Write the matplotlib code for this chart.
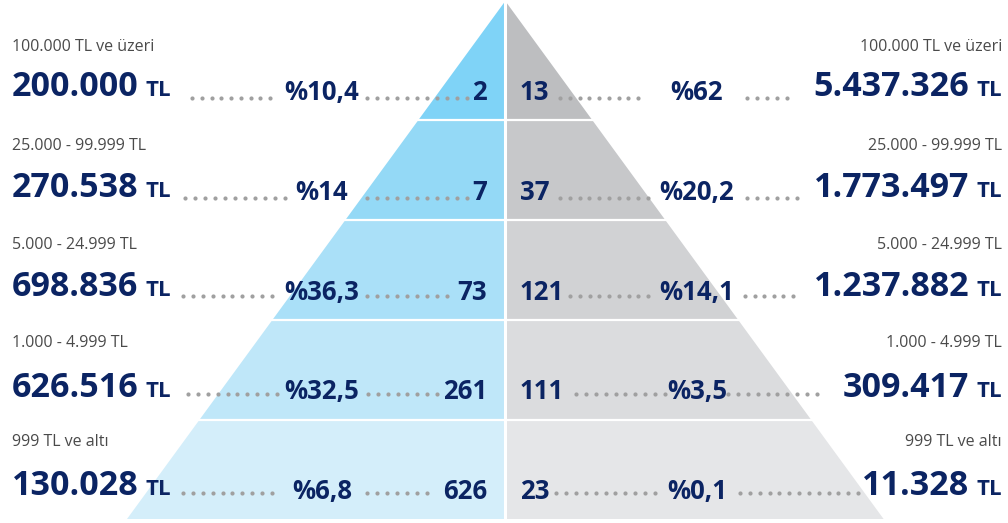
import numpy as np
import matplotlib

matplotlib.use("Agg")
import matplotlib.pyplot as plt

# tiers, top to bottom
tier_labels = ["100.000 TL ve üzeri", "25.000 - 99.999 TL", "5.000 - 24.999 TL",
               "1.000 - 4.999 TL", "999 TL ve altı"]
left_amount = [200000, 270538, 698836, 626516, 130028]
left_pct = [10.4, 14, 36.3, 32.5, 6.8]
left_count = [2, 7, 73, 261, 626]
right_count = [13, 37, 121, 111, 23]
right_pct = [62, 20.2, 14.1, 3.5, 0.1]
right_amount = [5437326, 1773497, 1237882, 309417, 11328]

left_colors = ["#7fd3f7", "#94d9f6", "#aae0f8", "#bfe7f9", "#d4eefa"]
right_colors = ["#bdbec0", "#c7c8ca", "#d1d2d4", "#dbdcde", "#e5e6e8"]

NAVY = "#0b2463"
GRAY_TXT = "#4a4a4a"
DOT = "#a0a0a0"
FONT = "Open Sans"


def fmt_int(v):
    return f"{v:,}".replace(",", ".")


def fmt_pct(v):
    s = f"{v:g}".replace(".", ",")
    return "%" + s


W, H = 1008, 523
fig = plt.figure(figsize=(W / 100, H / 100), dpi=100)
ax = fig.add_axes([0, 0, 1, 1])
ax.set_xlim(0, W)
ax.set_ylim(H, 0)
ax.axis("off")

# pyramid geometry (pixel layout)
cx, apex_y, base_y, base_half = 505.3, 1.0, 519.0, 378.3
k = base_half / (base_y - apex_y)
bounds = np.linspace(apex_y, base_y, len(tier_labels) + 1)
bounds[1:-1] = [119.5, 220, 320, 420]

for i in range(len(tier_labels)):
    yt, yb = bounds[i], bounds[i + 1]
    wt, wb = (yt - apex_y) * k, (yb - apex_y) * k
    ax.fill([cx, cx - wt, cx - wb, cx], [yt, yt, yb, yb], color=left_colors[i], lw=0)
    ax.fill([cx, cx + wt, cx + wb, cx], [yt, yt, yb, yb], color=right_colors[i], lw=0)

for y in bounds[1:-1]:
    ax.plot([0, W], [y, y], color="white", lw=1.6, solid_capstyle="butt")
ax.plot([cx, cx], [0, H], color="white", lw=2.2, solid_capstyle="butt")

label_y = [51, 150, 249, 347, 446]
value_y = [96, 197, 296, 397, 495]
mid_y = [100, 200, 300, 399, 499]
dot_y = [98, 198, 296, 394, 493]
left_dots = [[(192, 270, 9), (367, 467, 11)],
             [(185, 285, 11), (367, 467, 11)],
             [(183, 272, 10), (367, 447, 9)],
             [(188, 277, 10), (368, 437, 8)],
             [(183, 272, 10), (367, 427, 7)]]
right_dots = [[(560, 638, 9), (747, 787, 5)],
              [(560, 648, 10), (747, 797, 6)],
              [(570, 648, 9), (745, 793, 6)],
              [(576, 665, 10), (728, 817, 10)],
              [(556, 655, 11), (740, 858, 13)]]

for i in range(len(tier_labels)):
    for x0, x1, n in left_dots[i] + right_dots[i]:
        xs = np.linspace(x0, x1, n)
        ax.plot(xs, [dot_y[i]] * n, "o", color=DOT, ms=3.0, mec="none")

fig.canvas.draw()
renderer = fig.canvas.get_renderer()

for i, lab in enumerate(tier_labels):
    ax.text(12, label_y[i], lab, fontsize=11.5, color=GRAY_TXT, family=FONT,
            ha="left", va="baseline")
    ax.text(1002, label_y[i], lab, fontsize=11.5, color=GRAY_TXT, family=FONT,
            ha="right", va="baseline")

    # left amount + TL
    t = ax.text(12, value_y[i], fmt_int(left_amount[i]), fontsize=24.5, color=NAVY,
                family=FONT, weight="bold", ha="left", va="baseline")
    x1 = t.get_window_extent(renderer).x1
    ax.text(x1 + 7, value_y[i], "TL", fontsize=16, color=NAVY, family=FONT,
            weight="bold", ha="left", va="baseline")

    # right TL + amount
    t = ax.text(1002, value_y[i], "TL", fontsize=16, color=NAVY, family=FONT,
                weight="bold", ha="right", va="baseline")
    x0 = t.get_window_extent(renderer).x0
    ax.text(x0 - 7, value_y[i], fmt_int(right_amount[i]), fontsize=24.5, color=NAVY,
            family=FONT, weight="bold", ha="right", va="baseline")

    kw = dict(fontsize=18.5, color=NAVY, family=FONT, weight="bold", va="baseline")
    ax.text(322, mid_y[i], fmt_pct(left_pct[i]), ha="center", **kw)
    ax.text(487, mid_y[i], str(left_count[i]), ha="right", **kw)
    ax.text(520, mid_y[i], str(right_count[i]), ha="left", **kw)
    ax.text(697, mid_y[i], fmt_pct(right_pct[i]), ha="center", **kw)

fig.savefig("out.png", dpi=100, facecolor="white")
